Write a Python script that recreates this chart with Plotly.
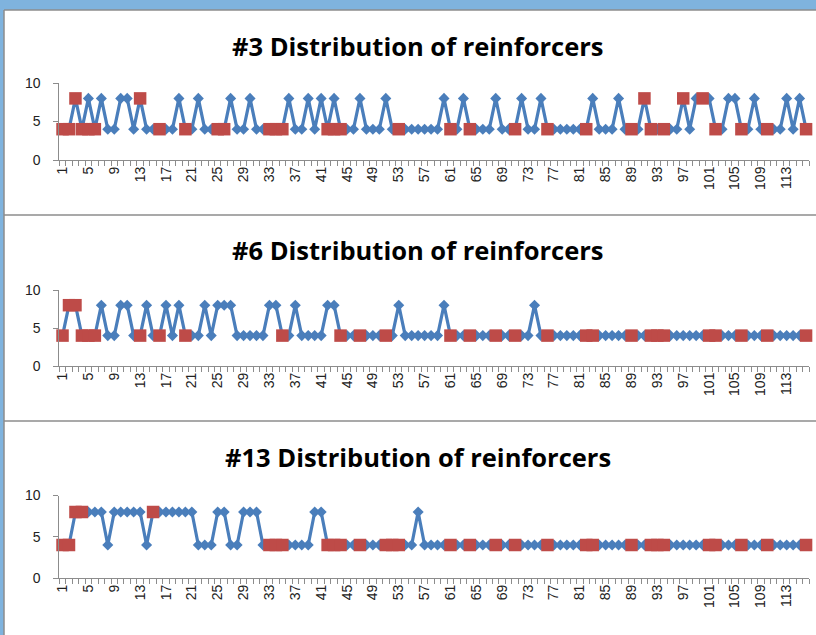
import plotly.graph_objects as go

# ---------------- data ----------------
categories = list(range(1, 117))
tick_labels = [str(v) for v in range(1, 114, 4)]

titles = ["#3 Distribution of reinforcers",
          "#6 Distribution of reinforcers",
          "#13 Distribution of reinforcers"]

blue_3 = [4, 4, 8, 4, 8, 4, 8, 4, 4, 8, 8, 4, 8, 4, 4, 4, 4, 4, 8, 4,
          4, 8, 4, 4, 4, 4, 8, 4, 4, 8, 4, 4, 4, 4, 4, 8, 4, 4, 8, 4,
          8, 4, 8, 4, 4, 4, 8, 4, 4, 4, 8, 4, 4, 4, 4, 4, 4, 4, 4, 8,
          4, 4, 8, 4, 4, 4, 4, 8, 4, 4, 4, 8, 4, 4, 8, 4, 4, 4, 4, 4,
          4, 4, 8, 4, 4, 4, 8, 4, 4, 4, 8, 4, 4, 4, 4, 4, 8, 4, 8, 8,
          8, 4, 4, 8, 8, 4, 4, 8, 4, 4, 4, 4, 8, 4, 8, 4]
red_3_points = {1: 4, 2: 4, 3: 8, 4: 4, 5: 4, 6: 4, 13: 8, 16: 4, 20: 4, 25: 4,
                26: 4, 33: 4, 34: 4, 35: 4, 42: 4, 43: 4, 44: 4, 53: 4, 61: 4,
                64: 4, 71: 4, 76: 4, 82: 4, 89: 4, 91: 8, 92: 4, 94: 4, 97: 8,
                100: 8, 102: 4, 106: 4, 110: 4, 116: 4}

blue_6 = [4, 8, 8, 4, 4, 4, 8, 4, 4, 8, 8, 4, 4, 8, 4, 4, 8, 4, 8, 4,
          4, 4, 8, 4, 8, 8, 8, 4, 4, 4, 4, 4, 8, 8, 4, 4, 8, 4, 4, 4,
          4, 8, 8, 4, 4, 4, 4, 4, 4, 4, 4, 4, 8, 4, 4, 4, 4, 4, 4, 8,
          4, 4, 4, 4, 4, 4, 4, 4, 4, 4, 4, 4, 4, 8, 4, 4, 4, 4, 4, 4,
          4, 4, 4, 4, 4, 4, 4, 4, 4, 4, 4, 4, 4, 4, 4, 4, 4, 4, 4, 4,
          4, 4, 4, 4, 4, 4, 4, 4, 4, 4, 4, 4, 4, 4, 4, 4]
red_6_points = {1: 4, 2: 8, 3: 8, 4: 4, 5: 4, 6: 4, 13: 4, 16: 4, 20: 4, 35: 4,
                44: 4, 47: 4, 51: 4, 61: 4, 64: 4, 68: 4, 71: 4, 76: 4, 82: 4,
                83: 4, 89: 4, 92: 4, 93: 4, 94: 4, 101: 4, 102: 4, 106: 4,
                110: 4, 116: 4}

blue_13 = [4, 4, 8, 8, 8, 8, 8, 4, 8, 8, 8, 8, 8, 4, 8, 8, 8, 8, 8, 8,
           8, 4, 4, 4, 8, 8, 4, 4, 8, 8, 8, 4, 4, 4, 4, 4, 4, 4, 4, 8,
           8, 4, 4, 4, 4, 4, 4, 4, 4, 4, 4, 4, 4, 4, 4, 8, 4, 4, 4, 4,
           4, 4, 4, 4, 4, 4, 4, 4, 4, 4, 4, 4, 4, 4, 4, 4, 4, 4, 4, 4,
           4, 4, 4, 4, 4, 4, 4, 4, 4, 4, 4, 4, 4, 4, 4, 4, 4, 4, 4, 4,
           4, 4, 4, 4, 4, 4, 4, 4, 4, 4, 4, 4, 4, 4, 4, 4]
red_13_points = {1: 4, 2: 4, 3: 8, 4: 8, 15: 8, 33: 4, 34: 4, 35: 4, 42: 4,
                 43: 4, 44: 4, 47: 4, 51: 4, 52: 4, 53: 4, 61: 4, 64: 4, 68: 4,
                 71: 4, 76: 4, 82: 4, 83: 4, 89: 4, 92: 4, 93: 4, 94: 4,
                 101: 4, 102: 4, 106: 4, 110: 4, 116: 4}

blues = [blue_3, blue_6, blue_13]
reds = [red_3_points, red_6_points, red_13_points]

# ---------------- layout helpers ----------------
W, H = 816, 635
BLUE = "#4A7EBB"
RED = "#BE4B48"
GRAY = "#8c8c8c"


def py(px):
    return 1 - px / H


# y pixel of value 0 and value 10 for each panel
panel_y = [(160, 83), (366, 290), (578, 495.5)]
title_y = [46, 250, 457]
x_dom = [59.3 / W, 809.3 / W]

fig = go.Figure()
layout = dict(
    width=W, height=H, autosize=False,
    margin=dict(l=0, r=0, t=0, b=0, pad=0, autoexpand=False),
    paper_bgcolor="#7fb3de",
    plot_bgcolor="rgba(0,0,0,0)",
    showlegend=False,
    font=dict(family="Liberation Sans, Arial", size=13, color="#222"),
)

shapes = [
    dict(type="rect", xref="paper", yref="paper", x0=4 / W, x1=1.05, y0=-0.05,
         y1=py(10), fillcolor="white", line=dict(width=0), layer="below"),
    dict(type="line", xref="paper", yref="paper", x0=4 / W, x1=1.05,
         y0=py(10), y1=py(10), line=dict(color=GRAY, width=1.5),
         layer="below"),
    dict(type="line", xref="paper", yref="paper", x0=4 / W, x1=4 / W,
         y0=-0.05, y1=py(10), line=dict(color=GRAY, width=1.5),
         layer="below"),
    dict(type="line", xref="paper", yref="paper", x0=4 / W, x1=1.05,
         y0=py(215), y1=py(215), line=dict(color=GRAY, width=1.5),
         layer="below"),
    dict(type="line", xref="paper", yref="paper", x0=4 / W, x1=1.05,
         y0=py(421), y1=py(421), line=dict(color=GRAY, width=1.5),
         layer="below"),
]
annotations = []

for i in range(3):
    sfx = "" if i == 0 else str(i + 1)
    xa, ya = "x" + sfx, "y" + sfx
    blue = blues[i]
    red_x = [c for c in categories if c in reds[i]]
    red_y = [reds[i][c] for c in red_x]

    fig.add_trace(go.Scatter(
        x=categories, y=blue, mode="lines+markers", xaxis=xa, yaxis=ya,
        line=dict(color=BLUE, width=3.2),
        marker=dict(symbol="diamond", size=8.5, color=BLUE,
                    line=dict(width=0)),
        hoverinfo="skip", cliponaxis=False))
    fig.add_trace(go.Scatter(
        x=red_x, y=red_y, mode="markers", xaxis=xa, yaxis=ya,
        marker=dict(symbol="square", size=12.5, color=RED,
                    line=dict(width=0)),
        hoverinfo="skip", cliponaxis=False))

    y0px, y10px = panel_y[i]
    layout["xaxis" + sfx] = dict(
        domain=x_dom, anchor=ya, range=[0.5, 116.5], automargin=False,
        tickmode="array", tickvals=[int(t) for t in tick_labels],
        ticktext=tick_labels, tickangle=-90, ticks="", showgrid=False,
        zeroline=False, showline=True, linecolor=GRAY, linewidth=1,
        tickfont=dict(size=14, color="#222"),
        minor=dict(tickmode="linear", tick0=0.5, dtick=1, ticks="outside",
                   ticklen=5, tickcolor=GRAY, tickwidth=1,
                   showgrid=False),
    )
    layout["yaxis" + sfx] = dict(
        domain=[py(y0px), py(y10px)], anchor=xa, range=[0, 10],
        automargin=False,
        tickmode="array", tickvals=[0, 5, 10], ticks="outside", ticklen=5,
        tickcolor=GRAY, showgrid=False, zeroline=False, showline=True,
        linecolor=GRAY, linewidth=1, ticklabelstandoff=10,
        tickfont=dict(size=14, color="#222"),
    )
    annotations.append(dict(
        text=titles[i], xref="paper", yref="paper", x=418 / W,
        y=py(title_y[i]), xanchor="center", yanchor="middle",
        showarrow=False,
        font=dict(family="Open Sans, Liberation Sans", size=25.5,
                  color="black", weight="bold")))

layout["shapes"] = shapes
layout["annotations"] = annotations
fig.update_layout(**layout)
fig.write_html(
    "out.html",
    config={"displayModeBar": False},
    post_script="document.body.style.margin='0px';"
                "document.documentElement.style.overflow='hidden';")
